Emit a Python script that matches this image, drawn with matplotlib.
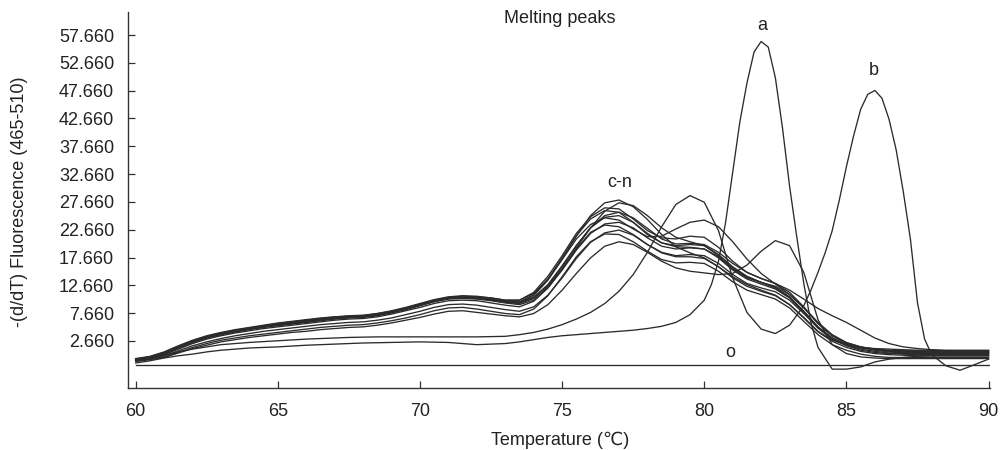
import matplotlib
matplotlib.use("Agg")
import matplotlib.pyplot as plt

plt.rcParams['font.family'] = ['Liberation Sans', 'DejaVu Sans']

# Temperature grid (deg C) for samples c-n
temps = [60.0, 60.5, 61.0, 61.5, 62.0, 62.5, 63.0, 63.5, 64.0, 64.5, 65.0, 65.5, 66.0, 66.5,
         67.0, 67.5, 68.0, 68.5, 69.0, 69.5, 70.0, 70.5, 71.0, 71.5, 72.0, 72.5, 73.0,
         73.5, 74.0, 74.5, 75.0, 75.5, 76.0, 76.5, 77.0, 77.5, 78.0, 78.5, 79.0, 79.5, 80.0,
         80.5, 81.0, 81.5, 82.0, 82.5, 83.0, 83.5, 84.0, 84.5, 85.0, 85.5, 86.0, 86.5, 87.0,
         87.5, 88.0, 88.5, 89.0, 89.5, 90.0]

# samples c-n
c1 = [-0.6, -0.2, 0.6, 1.7, 2.7, 3.5, 4.1, 4.6, 5.0, 5.4, 5.8, 6.1, 6.4, 6.7, 7.0, 7.1, 7.2,
      7.6, 8.1, 8.7, 9.4, 10.1, 10.6, 10.8, 10.7, 10.4, 10.0,
      10.0, 11.2, 13.8, 17.4, 21.5, 25.2, 27.5, 28.0, 26.8, 24.5, 21.8, 19.6, 18.5, 17.6,
      16.0, 14.2, 12.8, 11.8, 10.9, 9.2, 6.9, 4.4, 2.8, 2.0, 1.5, 1.3, 1.2, 1.1,
      1.0, 1.0, 0.9, 0.9, 0.9, 0.9]
c2 = [-0.7, -0.3, 0.4, 1.5, 2.5, 3.3, 3.9, 4.4, 4.9, 5.3, 5.6, 5.9, 6.2, 6.5, 6.8, 7.0, 7.1,
      7.4, 7.9, 8.5, 9.2, 9.9, 10.4, 10.6, 10.5, 10.2, 9.8,
      9.6, 10.4, 12.5, 15.6, 19.4, 23.0, 26.0, 27.5, 27.0, 25.2, 23.0, 21.3, 20.5, 19.8,
      18.2, 16.0, 14.3, 13.2, 12.2, 10.5, 8.0, 5.2, 3.2, 2.0, 1.4, 1.1, 0.9, 0.8,
      0.8, 0.7, 0.7, 0.7, 0.7, 0.7]
c3 = [-0.5, -0.1, 0.7, 1.8, 2.8, 3.6, 4.2, 4.7, 5.1, 5.5, 5.9, 6.2, 6.5, 6.8, 7.0, 7.2, 7.3,
      7.6, 8.0, 8.6, 9.3, 10.0, 10.5, 10.7, 10.6, 10.4, 10.0,
      10.0, 11.4, 14.3, 18.0, 22.0, 25.0, 26.6, 26.4, 24.6, 22.5, 21.2, 21.0, 21.5, 21.3,
      19.5, 17.0, 15.0, 13.9, 13.0, 11.4, 8.8, 5.8, 3.6, 2.3, 1.6, 1.2, 1.0, 0.9,
      0.9, 0.8, 0.8, 0.8, 0.8, 0.8]
c4 = [-0.6, -0.2, 0.5, 1.6, 2.6, 3.4, 4.0, 4.5, 4.9, 5.3, 5.6, 5.9, 6.2, 6.5, 6.8, 7.0, 7.1,
      7.4, 7.9, 8.5, 9.2, 9.9, 10.4, 10.6, 10.5, 10.2, 9.8,
      9.7, 11.0, 13.8, 17.6, 21.6, 24.6, 26.1, 25.8, 24.0, 21.8, 20.3, 19.8, 20.0, 19.8,
      18.0, 15.8, 14.2, 13.2, 12.3, 10.6, 8.0, 5.2, 3.2, 2.1, 1.5, 1.1, 0.8, 0.6,
      0.5, 0.5, 0.5, 0.5, 0.5, 0.5]
c5 = [-0.7, -0.3, 0.5, 1.6, 2.6, 3.4, 4.0, 4.5, 4.9, 5.3, 5.6, 5.9, 6.2, 6.5, 6.8, 7.0, 7.1,
      7.4, 7.9, 8.4, 9.1, 9.8, 10.3, 10.5, 10.4, 10.1, 9.7,
      9.6, 10.5, 12.8, 16.2, 19.8, 23.0, 25.2, 25.8, 24.8, 22.9, 21.0, 20.1, 20.2, 20.0,
      18.6, 16.6, 15.0, 13.9, 13.0, 11.8, 10.2, 8.5, 7.2, 6.0, 4.6, 3.2, 2.2, 1.6,
      1.3, 1.1, 1.0, 1.0, 1.0, 1.0]
c6 = [-0.8, -0.4, 0.3, 1.4, 2.4, 3.2, 3.8, 4.3, 4.8, 5.2, 5.5, 5.8, 6.1, 6.4, 6.7, 6.9, 7.0,
      7.3, 7.8, 8.4, 9.1, 9.8, 10.3, 10.4, 10.3, 10.0, 9.6,
      9.4, 10.3, 12.6, 16.0, 19.8, 23.0, 24.9, 25.2, 24.0, 22.0, 20.3, 19.6, 19.5, 19.2,
      17.6, 15.4, 13.8, 12.9, 12.0, 10.4, 7.8, 5.0, 3.0, 1.9, 1.2, 0.8, 0.5, 0.4,
      0.3, 0.3, 0.3, 0.3, 0.3, 0.3]
c7 = [-0.6, -0.2, 0.5, 1.6, 2.6, 3.4, 4.0, 4.5, 4.9, 5.3, 5.6, 5.9, 6.2, 6.5, 6.7, 6.9, 7.0,
      7.3, 7.8, 8.4, 9.1, 9.8, 10.3, 10.4, 10.3, 10.0, 9.6,
      9.5, 10.8, 13.6, 17.3, 21.0, 23.6, 24.8, 24.4, 22.8, 21.4, 21.5, 22.8, 24.0, 24.4,
      23.2, 20.5, 17.4, 14.8, 12.9, 11.0, 8.7, 6.0, 3.8, 2.4, 1.6, 1.2, 0.9, 0.7,
      0.6, 0.6, 0.6, 0.6, 0.6, 0.6]
c8 = [-0.7, -0.3, 0.4, 1.4, 2.4, 3.2, 3.8, 4.3, 4.7, 5.1, 5.4, 5.7, 6.0, 6.3, 6.6, 6.8, 6.9,
      7.2, 7.7, 8.3, 9.0, 9.7, 10.2, 10.3, 10.2, 9.9, 9.5,
      9.2, 10.0, 12.2, 15.4, 19.0, 22.0, 23.7, 24.0, 23.0, 21.2, 19.7, 19.2, 19.4, 19.2,
      17.8, 15.6, 14.0, 13.2, 12.5, 11.0, 8.6, 5.8, 3.6, 2.3, 1.5, 1.0, 0.7, 0.5,
      0.4, 0.4, 0.4, 0.4, 0.4, 0.4]
c9 = [-0.8, -0.4, 0.2, 1.2, 2.2, 3.0, 3.6, 4.1, 4.5, 4.9, 5.2, 5.5, 5.8, 6.1, 6.4, 6.6, 6.7,
      7.0, 7.5, 8.1, 8.7, 9.4, 9.9, 10.0, 9.9, 9.5, 9.1,
      8.8, 9.8, 12.2, 15.6, 19.2, 22.2, 23.5, 23.2, 21.8, 20.0, 18.5, 17.8, 17.8, 17.5,
      16.0, 14.0, 12.5, 11.6, 10.8, 9.2, 6.8, 4.3, 2.6, 1.5, 0.8, 0.4, 0.2, 0.1,
      0.0, 0.0, 0.0, 0.0, 0.0, 0.0]
c10 = [-0.9, -0.5, 0.0, 0.9, 1.8, 2.5, 3.1, 3.6, 4.0, 4.4, 4.7, 5.0, 5.3, 5.6, 5.8, 6.0, 6.1,
       6.4, 6.8, 7.4, 8.0, 8.7, 9.2, 9.3, 9.1, 8.7, 8.3,
       8.0, 8.8, 10.9, 14.0, 17.5, 20.4, 22.1, 22.6, 21.7, 20.0, 18.6, 18.0, 18.2, 18.0,
       16.6, 14.6, 13.0, 12.2, 11.5, 10.0, 7.6, 5.0, 3.0, 1.8, 1.0, 0.6, 0.4, 0.3,
       0.2, 0.2, 0.2, 0.2, 0.2, 0.2]
c11 = [-1.0, -0.6, -0.2, 0.6, 1.5, 2.2, 2.8, 3.2, 3.6, 3.9, 4.2, 4.5, 4.8, 5.1, 5.3, 5.5, 5.6,
       5.9, 6.3, 6.8, 7.4, 8.1, 8.6, 8.7, 8.4, 8.0, 7.6,
       7.4, 8.4, 10.8, 14.2, 17.8, 20.5, 21.9, 21.8, 20.5, 18.8, 17.3, 16.7, 16.8, 16.6,
       15.2, 13.3, 11.8, 11.0, 10.2, 8.6, 6.2, 3.8, 2.0, 1.0, 0.3, -0.1, -0.3, -0.3,
       -0.3, -0.3, -0.3, -0.3, -0.3, -0.3]
c12 = [-1.0, -0.7, -0.3, 0.5, 1.3, 1.9, 2.5, 2.9, 3.3, 3.6, 3.9, 4.2, 4.4, 4.7, 4.9, 5.1, 5.2,
       5.5, 5.9, 6.4, 6.9, 7.5, 8.0, 8.1, 7.8, 7.5, 7.2,
       7.0, 7.6, 9.2, 11.8, 14.8, 17.6, 19.7, 20.5, 20.0, 18.6, 17.0, 15.8, 15.2, 14.9,
       14.6, 14.8, 16.3, 18.8, 20.7, 19.8, 15.0, 6.5, 2.0, 0.4, -0.2, -0.4, -0.5, -0.5,
       -0.5, -0.5, -0.5, -0.5, -0.5, -0.5]

# sample a (single peak ~82 C)
a_temps = [60.0, 60.5, 61.0, 61.5, 62.0, 62.5, 63.0, 63.5, 64.0, 64.5, 65.0, 65.5, 66.0, 66.5,
           67.0, 67.5, 68.0, 68.5, 69.0, 69.5, 70.0, 70.5, 71.0, 71.5, 72.0, 72.5, 73.0,
           73.5, 74.0, 74.5, 75.0, 75.5, 76.0, 76.5, 77.0, 77.5, 78.0, 78.5, 79.0, 79.5, 80.0,
           80.25, 80.5, 80.75, 81.0, 81.25, 81.5, 81.75, 82.0, 82.25, 82.5, 82.75, 83.0,
           83.25, 83.5, 83.75, 84.0,
           84.5, 85.0, 85.5, 86.0, 86.5, 87.0, 87.5, 88.0, 88.5, 89.0, 89.5, 90.0]
a = [-1.3, -0.9, -0.4, 0.0, 0.3, 0.7, 1.0, 1.2, 1.4, 1.5, 1.6, 1.75, 1.9, 2.0, 2.1, 2.2, 2.3,
     2.35, 2.4, 2.45, 2.5, 2.45, 2.4, 2.2, 2.0, 2.1, 2.2,
     2.5, 2.9, 3.3, 3.6, 3.8, 4.0, 4.2, 4.4, 4.6, 4.9, 5.3, 6.0, 7.4, 10.0,
     12.8, 17.0, 24.0, 33.0, 42.0, 49.0, 54.6, 56.5, 55.5, 50.0, 41.0, 30.5,
     21.5, 13.0, 6.0, 1.5,
     -2.4, -2.4, -2.0, -1.1, -0.6, -0.3, -0.1, 0.0, 0.0, 0.0, 0.0, 0.0]

# sample b (peaks ~79.5 and ~86 C)
b_temps = [60.0, 60.5, 61.0, 61.5, 62.0, 62.5, 63.0, 63.5, 64.0, 64.5, 65.0, 65.5, 66.0, 66.5,
           67.0, 67.5, 68.0, 68.5, 69.0, 69.5, 70.0, 70.5, 71.0, 71.5, 72.0, 72.5, 73.0,
           73.5, 74.0, 74.5, 75.0, 75.5, 76.0, 76.5, 77.0, 77.5, 78.0, 78.5, 79.0, 79.5, 80.0,
           80.5, 81.0, 81.5, 82.0, 82.5, 83.0, 83.5,
           83.75, 84.0, 84.25, 84.5, 84.75, 85.0, 85.25, 85.5, 85.75, 86.0, 86.25, 86.5,
           86.75, 87.0, 87.25, 87.5, 87.75, 88.0,
           88.5, 89.0, 89.5, 90.0]
b = [-0.9, -0.4, 0.1, 0.7, 1.2, 1.6, 2.0, 2.2, 2.4, 2.55, 2.7, 2.85, 3.0, 3.1, 3.2, 3.3, 3.35,
     3.4, 3.4, 3.4, 3.4, 3.4, 3.4, 3.4, 3.4, 3.45, 3.5,
     3.8, 4.2, 4.8, 5.6, 6.6, 7.8, 9.4, 11.6, 14.6, 18.6, 23.2, 27.2, 28.8, 27.6,
     22.5, 14.0, 7.8, 4.8, 4.0, 5.5, 9.0,
     11.8, 15.0, 18.5, 22.5, 28.0, 34.0, 39.5, 44.3, 47.0, 47.7, 46.3, 42.5,
     37.0, 29.5, 21.0, 9.5, 3.0, 0.2,
     -1.8, -2.6, -1.6, -0.6]

# sample o (no template control)
o_temps = [60, 90]
o_vals = [-1.65, -1.65]

cn_series = [c1, c2, c3, c4, c5, c6, c7, c8, c9, c10, c11, c12]

yticks = [2.66, 7.66, 12.66, 17.66, 22.66, 27.66, 32.66, 37.66, 42.66, 47.66, 52.66, 57.66]
ytick_labels = ['2.660', '7.660', '12.660', '17.660', '22.660', '27.660', '32.660',
                '37.660', '42.660', '47.660', '52.660', '57.660']
xticks = [60, 65, 70, 75, 80, 85, 90]

labels = [("a", 82.05, 59.3), ("b", 85.95, 51.2), ("c-n", 77.03, 31.2), ("o", 80.9, 0.68)]

line_color = '#2b2b2b'
text_color = '#222222'

fig = plt.figure(figsize=(10.02, 4.5), dpi=100)
ax = fig.add_axes([128 / 1002, 62 / 450, 862 / 1002, 376 / 450])

for s in cn_series:
    ax.plot(temps, s, color=line_color, lw=0.95)
ax.plot(a_temps, a, color=line_color, lw=0.95)
ax.plot(b_temps, b, color=line_color, lw=0.95)
ax.plot(o_temps, o_vals, color=line_color, lw=0.95)

ax.set_xlim(59.73, 90.05)
ax.set_ylim(-5.79, 61.8)

ax.set_yticks(yticks)
ax.set_yticklabels(ytick_labels)
ax.set_xticks(xticks)

for side in ('top', 'right'):
    ax.spines[side].set_visible(False)
for side in ('left', 'bottom'):
    ax.spines[side].set_color('#333333')
    ax.spines[side].set_linewidth(1.0)

ax.tick_params(axis='both', direction='in', length=5, width=0.9, colors='#333333',
               labelsize=13, labelcolor=text_color)
ax.tick_params(axis='y', pad=10)
ax.tick_params(axis='x', pad=11)

for txt, x, y in labels:
    ax.text(x, y, txt, fontsize=13, color=text_color, ha='center', va='center')

ax.text(74.9, 60.7, "Melting peaks", fontsize=13, color=text_color, ha='center', va='center')

fig.text(20 / 1002, 1 - 202 / 450, "-(d/dT) Fluorescence (465-510)", rotation=90,
         fontsize=13, color=text_color, ha='center', va='center')
fig.text(560 / 1002, 1 - 440 / 450, "Temperature (\u2103)", fontsize=13,
         color=text_color, ha='center', va='center')

fig.savefig("out.png", dpi=100)
